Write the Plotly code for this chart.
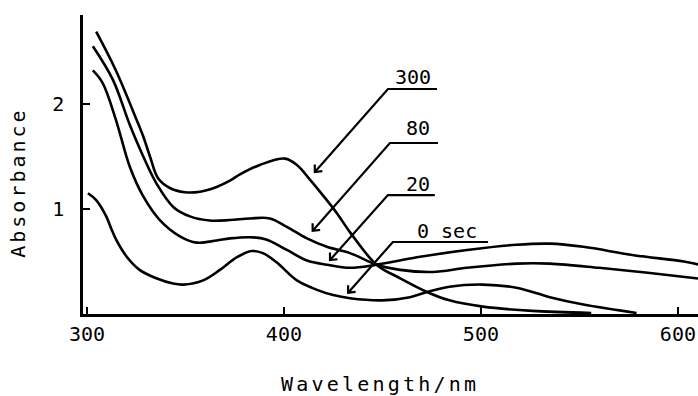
import math
import plotly.graph_objects as go

# ---- data (wavelength nm, absorbance) ----
wl_300 = [304.7, 314.7, 325.2, 328.6, 332, 336.2, 342.1, 349.7, 357.4, 365.8, 372.6, 377.7,
          387.8, 400.5, 406.6, 413.2, 419.8, 426.9, 433.5, 447, 459, 472.6, 484, 501, 526, 556]
abs_300 = [2.69, 2.32, 1.85, 1.69, 1.50, 1.29, 1.20, 1.16, 1.165, 1.21, 1.27, 1.33,
           1.42, 1.48, 1.42, 1.28, 1.13, 0.96, 0.78, 0.47, 0.34, 0.21, 0.13, 0.07, 0.03, 0.01]

wl_80 = [303, 313.2, 321.8, 328.6, 335.4, 343.8, 352.3, 362.4, 372.6, 382.7, 392.9, 401.5,
         411.7, 421.8, 433.5, 447, 459, 475.6, 492.9, 518, 535, 560, 585.8, 612]
abs_80 = [2.55, 2.23, 1.80, 1.50, 1.24, 1.02, 0.93, 0.89, 0.895, 0.91, 0.91, 0.83,
          0.72, 0.64, 0.58, 0.47, 0.42, 0.40, 0.44, 0.48, 0.48, 0.44, 0.39, 0.335]

wl_20 = [303, 308, 314.7, 321.8, 328.6, 337, 347.2, 355.7, 365.8, 372.6, 384.3, 391, 401.5,
         411.7, 421.8, 433.5, 447, 467.5, 493, 518, 535, 552, 577.6, 603, 612]
abs_20 = [2.32, 2.20, 1.85, 1.40, 1.12, 0.895, 0.74, 0.68, 0.70, 0.72, 0.73, 0.71, 0.61,
          0.51, 0.47, 0.44, 0.47, 0.54, 0.61, 0.66, 0.67, 0.64, 0.56, 0.50, 0.465]

wl_0 = [300.5, 304.7, 309.8, 312.3, 314.9, 320, 326.7, 335.2, 343.7, 349, 359, 367.5, 376, 383.8,
        389.3, 396.4, 406.6, 416.8, 425, 433.5, 450, 464, 472.6, 484, 501, 518, 535, 552, 579]
abs_0 = [1.15, 1.085, 0.93, 0.815, 0.705, 0.55, 0.42, 0.34, 0.29, 0.28, 0.32, 0.42, 0.54, 0.60,
         0.58, 0.49, 0.32, 0.23, 0.18, 0.15, 0.13, 0.16, 0.21, 0.26, 0.28, 0.25, 0.16, 0.09, 0.01]

x_ticks = [300, 400, 500, 600]
y_ticks = [1, 2]

# callout labels: text, label centre, underline corner/end, arrow tip
labels = ["300", "80", "20", "0 sec"]
label_xy = [(465.5, 2.26), (468.2, 1.77), (468.2, 1.243), (482.9, 0.786)]
underline_y = [2.143, 1.629, 1.133, 0.686]
underline_x0 = [452.8, 453.8, 452.8, 455.3]
underline_x1 = [477.7, 478.2, 476.6, 503.6]
tip_xy = [(415.7, 1.352), (414.6, 0.793), (423.4, 0.514), (432.6, 0.203)]

# ---- layout geometry ----
W, H = 698, 396
ML, MR, MT, MB = 83, 0, 15, 82
XR = [298, 610.2]
YR = [0, 2.848]
sx = (W - ML - MR) / (XR[1] - XR[0])
sy = (H - MT - MB) / (YR[1] - YR[0])

FONT = "DejaVu Sans Mono"
LW = 2.6

fig = go.Figure()
for xs, ys in [(wl_300, abs_300), (wl_80, abs_80), (wl_20, abs_20), (wl_0, abs_0)]:
    fig.add_trace(go.Scatter(x=xs, y=ys, mode="lines",
                             line=dict(color="black", width=LW, shape="spline", smoothing=1.0),
                             showlegend=False, hoverinfo="skip"))

def arrow_head(tip, corner, length=7.5, ang=42):
    dx = (corner[0] - tip[0]) * sx
    dy = (corner[1] - tip[1]) * sy
    n = math.hypot(dx, dy)
    ux, uy = dx / n, dy / n
    pts = []
    for a in (ang, -ang):
        r = math.radians(a)
        vx = ux * math.cos(r) - uy * math.sin(r)
        vy = ux * math.sin(r) + uy * math.cos(r)
        pts.append((tip[0] + vx * length / sx, tip[1] + vy * length / sy))
    return pts

for i, text in enumerate(labels):
    corner = (underline_x0[i], underline_y[i])
    tip = tip_xy[i]
    fig.add_trace(go.Scatter(x=[underline_x1[i], corner[0], tip[0]],
                             y=[underline_y[i], corner[1], tip[1]], mode="lines",
                             line=dict(color="black", width=2.2),
                             showlegend=False, hoverinfo="skip"))
    a1, a2 = arrow_head(tip, corner)
    fig.add_trace(go.Scatter(x=[a1[0], tip[0], a2[0]], y=[a1[1], tip[1], a2[1]], mode="lines",
                             line=dict(color="black", width=2.2),
                             showlegend=False, hoverinfo="skip"))
    fig.add_annotation(x=label_xy[i][0], y=label_xy[i][1], text=text, showarrow=False,
                       xanchor="center", yanchor="middle",
                       font=dict(family=FONT, size=20, color="black"))

fig.add_annotation(xref="paper", yref="y", x=0, y=1.25, xshift=-65,
                   text='<span style="letter-spacing:3px">Absorbance</span>',
                   textangle=-90, showarrow=False, xanchor="center", yanchor="middle",
                   font=dict(family=FONT, size=20, color="black"))
fig.add_annotation(xref="x", yref="paper", x=448.7, y=0, yshift=-70,
                   text='<span style="letter-spacing:3.2px">Wavelength/nm</span>',
                   showarrow=False, xanchor="center", yanchor="middle",
                   font=dict(family=FONT, size=20, color="black"))

fig.update_layout(
    width=W, height=H,
    margin=dict(l=ML, r=MR, t=MT, b=MB),
    paper_bgcolor="white", plot_bgcolor="white",
    hovermode=False,
    xaxis=dict(range=XR, tickmode="array", tickvals=x_ticks, ticks="inside", ticklen=7,
               tickwidth=2, tickcolor="black", showline=True, linecolor="black", linewidth=2.6,
               showgrid=False, zeroline=False, ticklabelstandoff=0,
               tickfont=dict(family=FONT, size=20, color="black")),
    yaxis=dict(range=YR, tickmode="array", tickvals=y_ticks, ticks="inside", ticklen=7,
               tickwidth=2, tickcolor="black", showline=True, linecolor="black", linewidth=2.6,
               showgrid=False, zeroline=False, ticklabelstandoff=12,
               tickfont=dict(family=FONT, size=20, color="black")),
)

fig.write_html("out.html", config={"displayModeBar": False},
               post_script="document.body.style.margin='0';document.body.style.overflow='hidden';")
